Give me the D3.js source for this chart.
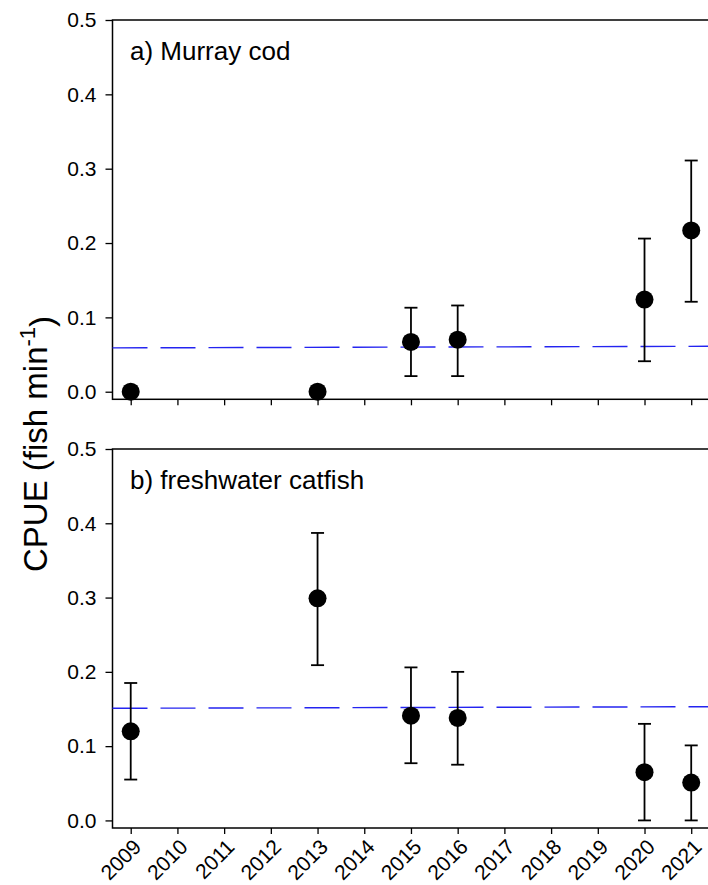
<!DOCTYPE html>
<html>
<head>
<meta charset="utf-8">
<script src="https://cdn.jsdelivr.net/npm/d3@7"></script>
<style>
    body { margin: 0; background: #fff; }
    svg text { font-family: "Liberation Sans", Arial, sans-serif; fill: #000; }
</style>
</head>
<body>
<div class="cpue-chart"></div>
<script>
// survey years shown on the x axis
const years = [2009, 2010, 2011, 2012, 2013, 2014, 2015, 2016, 2017, 2018, 2019, 2020, 2021];
const yTicks = [0.0, 0.1, 0.2, 0.3, 0.4, 0.5];

// a) Murray cod
const codYears = [2009, 2013, 2015, 2016, 2020, 2021];
const codMean  = [0.000, 0.000, 0.067, 0.070, 0.124, 0.217];
const codUpper = [null, null, 0.113, 0.116, 0.206, 0.311];
const codLower = [null, null, 0.021, 0.021, 0.041, 0.121];
const codTrend = [0.059, 0.061];   // dashed line at first / last year

// b) freshwater catfish
const catYears = [2009, 2013, 2015, 2016, 2020, 2021];
const catMean  = [0.120, 0.299, 0.141, 0.138, 0.065, 0.051];
const catUpper = [0.185, 0.387, 0.206, 0.200, 0.130, 0.101];
const catLower = [0.055, 0.209, 0.077, 0.075, 0.000, 0.000];
const catTrend = [0.151, 0.153];

const panels = [
    {label: "a) Murray cod", years: codYears, mean: codMean, upper: codUpper, lower: codLower, trend: codTrend, top: 20, bottom: 399.3, xLabels: false},
    {label: "b) freshwater catfish", years: catYears, mean: catMean, upper: catUpper, lower: catLower, trend: catTrend, top: 449, bottom: 828, xLabels: true}
];

const width = 708, height = 885;

var svg = d3.select(".cpue-chart")
    .append("svg")
    .attr("width", width)
    .attr("height", height);

var x = d3.scaleLinear()
    .domain([2008.61, 2021.4])
    .range([112.5, 709.9]);

panels.forEach(function (p) {
    var y = d3.scaleLinear()
        .domain([-0.0102, 0.5])
        .range([p.bottom, p.top]);

    var g = svg.append("g");

    // frame (top line and right side run off the picture)
    g.append("rect")
        .attr("x", x.range()[0])
        .attr("y", p.top)
        .attr("width", 720 - x.range()[0])
        .attr("height", p.bottom - p.top)
        .attr("fill", "none")
        .attr("stroke", "#000")
        .attr("stroke-width", 1.5);

    var yAxis = g.append("g")
        .attr("transform", "translate(" + x.range()[0] + ",0)")
        .call(d3.axisLeft(y).tickValues(yTicks).tickSize(7).tickPadding(9).tickFormat(d3.format(".1f")));
    yAxis.select(".domain").remove();
    yAxis.selectAll("line").attr("stroke-width", 1.3);
    yAxis.selectAll("text").style("font-size", "21px").attr("font-family", null);

    var xAxis = g.append("g")
        .attr("transform", "translate(0," + p.bottom + ")")
        .call(d3.axisBottom(x).tickValues(years).tickSize(6).tickFormat(p.xLabels ? d3.format("d") : ""));
    xAxis.select(".domain").remove();
    xAxis.selectAll("line").attr("stroke-width", 1.3);
    if (p.xLabels) {
        xAxis.selectAll("text")
            .attr("font-family", null)
            .style("font-size", "21px")
            .style("text-anchor", "end")
            .attr("y", 0)
            .attr("dy", "0.35em")
            .attr("transform", "translate(6,15) rotate(-45)");
    }

    // dashed blue reference line
    g.append("line")
        .attr("x1", x(2008.61))
        .attr("x2", x(2021.4))
        .attr("y1", y(p.trend[0] - (p.trend[1] - p.trend[0]) * 0.39 / 12))
        .attr("y2", y(p.trend[1] + (p.trend[1] - p.trend[0]) * 0.4 / 12))
        .attr("stroke", "#2424f0")
        .attr("stroke-width", 1.4)
        .attr("stroke-dasharray", "35,13");

    var pts = p.years.map(function (yr, i) {
        return {year: yr, mean: p.mean[i], upper: p.upper[i], lower: p.lower[i]};
    });

    var bars = g.selectAll(".err")
        .data(pts.filter(function (d) { return d.upper !== null; }))
        .enter()
        .append("g")
        .attr("class", "err")
        .attr("stroke", "#000")
        .attr("stroke-width", 1.8);

    bars.append("line")
        .attr("x1", function (d) { return x(d.year); })
        .attr("x2", function (d) { return x(d.year); })
        .attr("y1", function (d) { return y(d.upper); })
        .attr("y2", function (d) { return y(d.lower); });
    bars.append("line")
        .attr("x1", function (d) { return x(d.year) - 6.5; })
        .attr("x2", function (d) { return x(d.year) + 6.5; })
        .attr("y1", function (d) { return y(d.upper); })
        .attr("y2", function (d) { return y(d.upper); });
    bars.append("line")
        .attr("x1", function (d) { return x(d.year) - 6.5; })
        .attr("x2", function (d) { return x(d.year) + 6.5; })
        .attr("y1", function (d) { return y(d.lower); })
        .attr("y2", function (d) { return y(d.lower); });

    g.selectAll(".pt")
        .data(pts)
        .enter()
        .append("circle")
        .attr("class", "pt")
        .attr("cx", function (d) { return x(d.year); })
        .attr("cy", function (d) { return y(d.mean); })
        .attr("r", 9)
        .attr("fill", "#000");

    g.append("text")
        .attr("x", 130)
        .attr("y", p.top + 40)
        .style("font-size", "26px")
        .text(p.label);
});

// shared y axis title
var yTitle = svg.append("text")
    .attr("transform", "translate(47,444) rotate(-90)")
    .style("text-anchor", "middle")
    .style("font-size", "33px");
yTitle.append("tspan").text("CPUE (fish min");
yTitle.append("tspan").attr("dy", "-0.55em").style("font-size", "22px").text("-1");
yTitle.append("tspan").attr("dy", "0.55em").text(")");
</script>
</body>
</html>
